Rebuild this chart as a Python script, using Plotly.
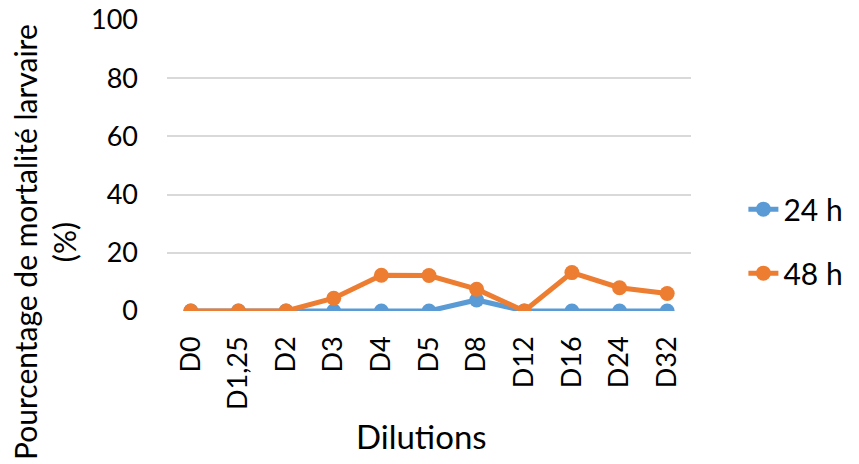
import plotly.graph_objects as go

# values
DILUTIONS = ["D0", "D1,25", "D2", "D3", "D4", "D5", "D8", "D12", "D16", "D24", "D32"]
MORT_24H = [0, 0, 0, 0, 0, 0, 3.8, 0, 0, 0, 0]
MORT_48H = [0, 0, 0, 4.4, 12.3, 12.2, 7.5, 0, 13.2, 8.0, 6.0]
Y_TICKS = [0, 20, 40, 60, 80, 100]

BLUE = "#5b9bd5"
ORANGE = "#ed7d31"
GRID = "#d9d9d9"
FONT = "Lato, Calibri, sans-serif"

fig = go.Figure()
for name, values, color in [("24 h", MORT_24H, BLUE), ("48 h", MORT_48H, ORANGE)]:
    fig.add_trace(
        go.Scatter(
            x=DILUTIONS,
            y=values,
            name=name,
            legendgroup=name,
            mode="lines+markers",
            line={"color": color, "width": 5},
            marker={"color": color, "size": 15},
        )
    )

fig.update_layout(
    width=859,
    height=464,
    paper_bgcolor="white",
    plot_bgcolor="white",
    font={"family": FONT, "color": "black", "size": 27},
    margin={"l": 167, "r": 168, "t": 20, "b": 153, "autoexpand": False},
    showlegend=True,
    legend={
        "x": 1.1,
        "xanchor": "left",
        "y": 0.24,
        "yanchor": "middle",
        "font": {"size": 30},
        "tracegroupgap": 22,
        "bgcolor": "rgba(0,0,0,0)",
    },
    annotations=[
        {
            "text": "Pourcentage de mortalité larvaire<br>(%)",
            "xref": "paper",
            "yref": "paper",
            "x": -0.235,
            "y": 0.237,
            "xanchor": "center",
            "yanchor": "middle",
            "textangle": -90,
            "showarrow": False,
            "font": {"size": 30},
        },
        {
            "text": "Dilutions",
            "xref": "paper",
            "yref": "paper",
            "x": 0.485,
            "y": -0.43,
            "xanchor": "center",
            "yanchor": "middle",
            "showarrow": False,
            "font": {"size": 33},
        },
    ],
)
fig.update_xaxes(
    type="category",
    range=[-0.5, len(DILUTIONS) - 0.5],
    tickangle=-90,
    showgrid=False,
    showline=False,
    zeroline=False,
    ticks="",
    automargin=False,
    ticklabelstandoff=19,
    tickfont={"size": 27},
)
fig.update_yaxes(
    range=[0, 100],
    tickvals=Y_TICKS,
    gridcolor=GRID,
    gridwidth=2,
    zeroline=False,
    showline=False,
    ticks="",
    automargin=False,
    ticklabelstandoff=28,
    tickfont={"size": 27},
)

fig.write_html(
    "out.html",
    config={"displayModeBar": False},
    post_script="document.body.style.margin='0';document.body.style.overflow='hidden';",
)
